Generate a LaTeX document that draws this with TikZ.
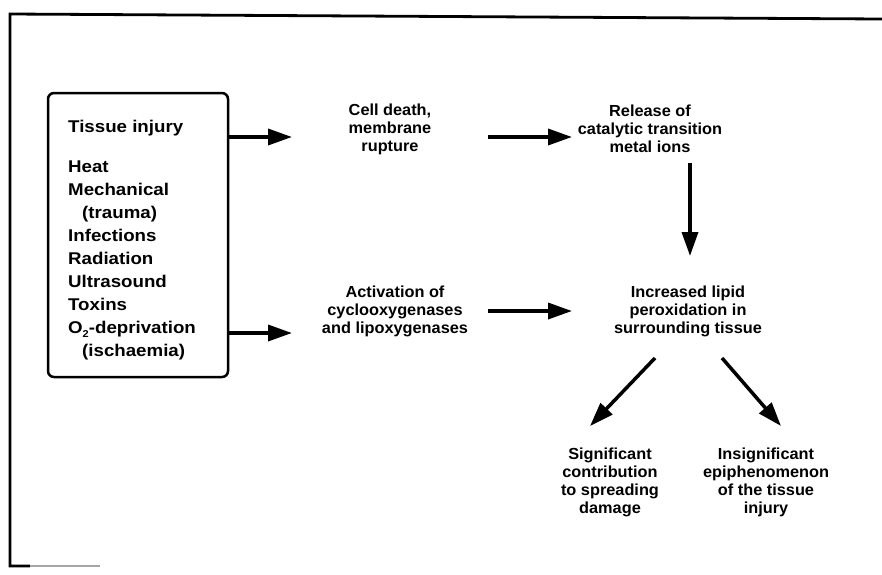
\documentclass[tikz,border=0pt]{standalone}
\usepackage{fontspec}
\setmainfont{Liberation Sans}[FakeStretch=1.02]
\newfontfamily\boxfont{Liberation Sans}[FakeStretch=1.1]
\usetikzlibrary{arrows.meta}
\tikzset{
  arr/.style={line width=3.5pt,-{Triangle[length=24pt,width=16pt]}},
  txt/.style={align=center,inner sep=0pt,font=\bfseries\fontsize{16}{18}\selectfont},
  btxt/.style={inner sep=0pt,font=\boxfont\bfseries\fontsize{17}{23}\selectfont},
  framel/.style={line width=2.8pt},
  boxst/.style={draw,line width=2.5pt,rounded corners=6pt,inner sep=0pt}
}
\begin{document}
\begin{tikzpicture}[x=1pt,y=-1pt]
\useasboundingbox (0,0) rectangle (882,574);
% frame
\coordinate (ftl) at (10,14);
\coordinate (ftr) at (882,19);
\coordinate (fbl) at (10,566);
\coordinate (fbs) at (30,566);
\coordinate (fbg) at (100,566);
\draw[framel] (ftr) -- (ftl) -- (fbl) -- (fbs);
\draw[line width=1.5pt,black!35] (fbs) -- (fbg);
% box
\node[boxst,minimum width=180pt,minimum height=284pt] (box) at (138,235) {};
\node[btxt,anchor=west] (title) at (68,128) {Tissue injury};
\node[btxt,anchor=north west,align=left] (list) at (68,161)
 {Heat\\Mechanical\\\hspace*{14pt}(trauma)\\Infections\\Radiation\\Ultrasound\\Toxins\\O\raisebox{-0.35ex}{\fontsize{10}{10}\selectfont 2}-deprivation\\\hspace*{14pt}(ischaemia)};
% text blocks
\node[txt] (cell) at (390,129) {Cell death,\\membrane\\rupture};
\node[txt] (rel) at (650,129) {Release of\\catalytic transition\\metal ions};
\node[txt] (act) at (395,311) {Activation of\\cyclooxygenases\\and lipoxygenases};
\node[txt] (lip) at (688,311) {Increased lipid\\peroxidation in\\surrounding tissue};
\node[txt] (sig) at (610,482) {Significant\\contribution\\to spreading\\damage};
\node[txt] (ins) at (766,482) {Insignificant\\epiphenomenon\\of the tissue\\injury};
% arrow end points
\coordinate (a1e) at (292,137);
\coordinate (a2e) at (292,333);
\coordinate (a3s) at (488,137);
\coordinate (a3e) at (572,137);
\coordinate (a4s) at (488,311);
\coordinate (a4e) at (572,311);
\coordinate (dns) at (690,163);
\coordinate (dne) at (690,256);
\coordinate (dls) at (655,358);
\coordinate (dle) at (590,426);
\coordinate (drs) at (722,358);
\coordinate (dre) at (781,426);
% arrows
\draw[arr] (box.east |- a1e) -- (a1e);
\draw[arr] (box.east |- a2e) -- (a2e);
\draw[arr] (a3s) -- (a3e);
\draw[arr] (a4s) -- (a4e);
\draw[arr] (dns) -- (dne);
\draw[arr] (dls) -- (dle);
\draw[arr] (drs) -- (dre);
\end{tikzpicture}
\end{document}
